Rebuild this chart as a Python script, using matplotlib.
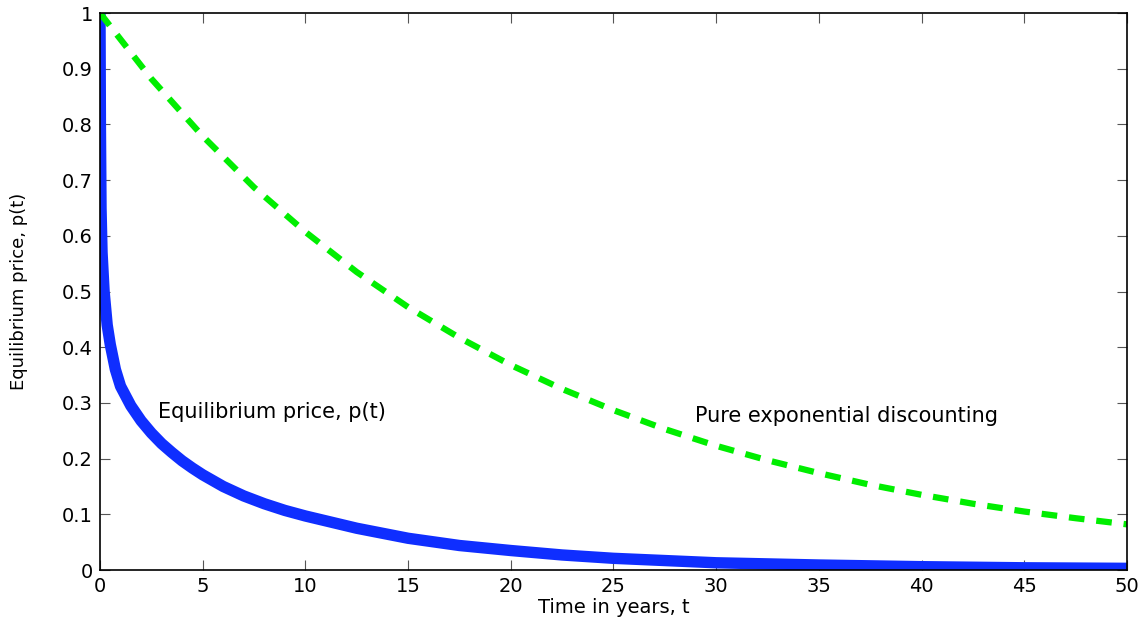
import matplotlib.pyplot as plt
from matplotlib.ticker import FuncFormatter

plt.rcParams['font.family'] = ['DejaVu Sans']

# --- values ---
t_price = [0, 0.02, 0.05, 0.1, 0.2, 0.35, 0.5, 0.75, 1, 1.5, 2, 2.5, 3, 3.5,
           4, 4.5, 5, 6, 7, 8, 9, 10, 12.5, 15, 17.5, 20, 22.5, 25, 30, 35,
           40, 45, 50]
p_price = [1.0, 0.8, 0.65, 0.57, 0.5, 0.44, 0.405, 0.36, 0.33, 0.295, 0.268,
           0.246, 0.227, 0.211, 0.196, 0.183, 0.171, 0.150, 0.133, 0.119,
           0.107, 0.097, 0.075, 0.057, 0.044, 0.035, 0.027, 0.021, 0.013,
           0.009, 0.006, 0.004, 0.003]

t_exp = [0, 2.5, 5, 7.5, 10, 12.5, 15, 17.5, 20, 22.5, 25, 27.5, 30, 32.5,
         35, 37.5, 40, 42.5, 45, 47.5, 50]
p_exp = [1.0, 0.882, 0.779, 0.687, 0.607, 0.535, 0.472, 0.417, 0.368, 0.325,
         0.287, 0.253, 0.223, 0.197, 0.174, 0.153, 0.135, 0.119, 0.105,
         0.093, 0.082]

x_ticks = list(range(0, 51, 5))
y_ticks = [0, 0.1, 0.2, 0.3, 0.4, 0.5, 0.6, 0.7, 0.8, 0.9, 1]

fig = plt.figure(figsize=(11.48, 6.21), dpi=100)
ax = fig.add_axes([0.0871, 0.0821, 0.8946, 0.8969])

ax.plot(t_price, p_price, color='#0f2eff', linewidth=8.2,
        solid_capstyle='butt', solid_joinstyle='round')
ax.plot(t_exp, p_exp, color='#00ee00', linewidth=4.5,
        dashes=(2.5, 1.9), dash_capstyle='butt')

ax.text(2.82, 0.273, 'Equilibrium price, p(t)', fontsize=15, va='baseline')
ax.text(28.95, 0.266, 'Pure exponential discounting', fontsize=15,
        va='baseline')

ax.set_xlim(0, 50)
ax.set_ylim(0, 1)
ax.set_xticks(x_ticks)
ax.set_yticks(y_ticks)
ax.yaxis.set_major_formatter(FuncFormatter(lambda v, p: '%g' % v))
ax.tick_params(direction='in', length=7, width=0.8, labelsize=14,
               top=True, right=True, color='#555555')
ax.tick_params(axis='x', pad=5)
ax.tick_params(axis='y', pad=5)

for s in ax.spines.values():
    s.set_linewidth(1.2)

ax.set_xlabel('Time in years, t', fontsize=14)
ax.xaxis.set_label_coords(0.5, -0.05)
ax.set_ylabel('Equilibrium price, p(t)', fontsize=13)
ax.yaxis.set_label_coords(-0.07, 0.5)

fig.savefig('out.png', dpi=100)
